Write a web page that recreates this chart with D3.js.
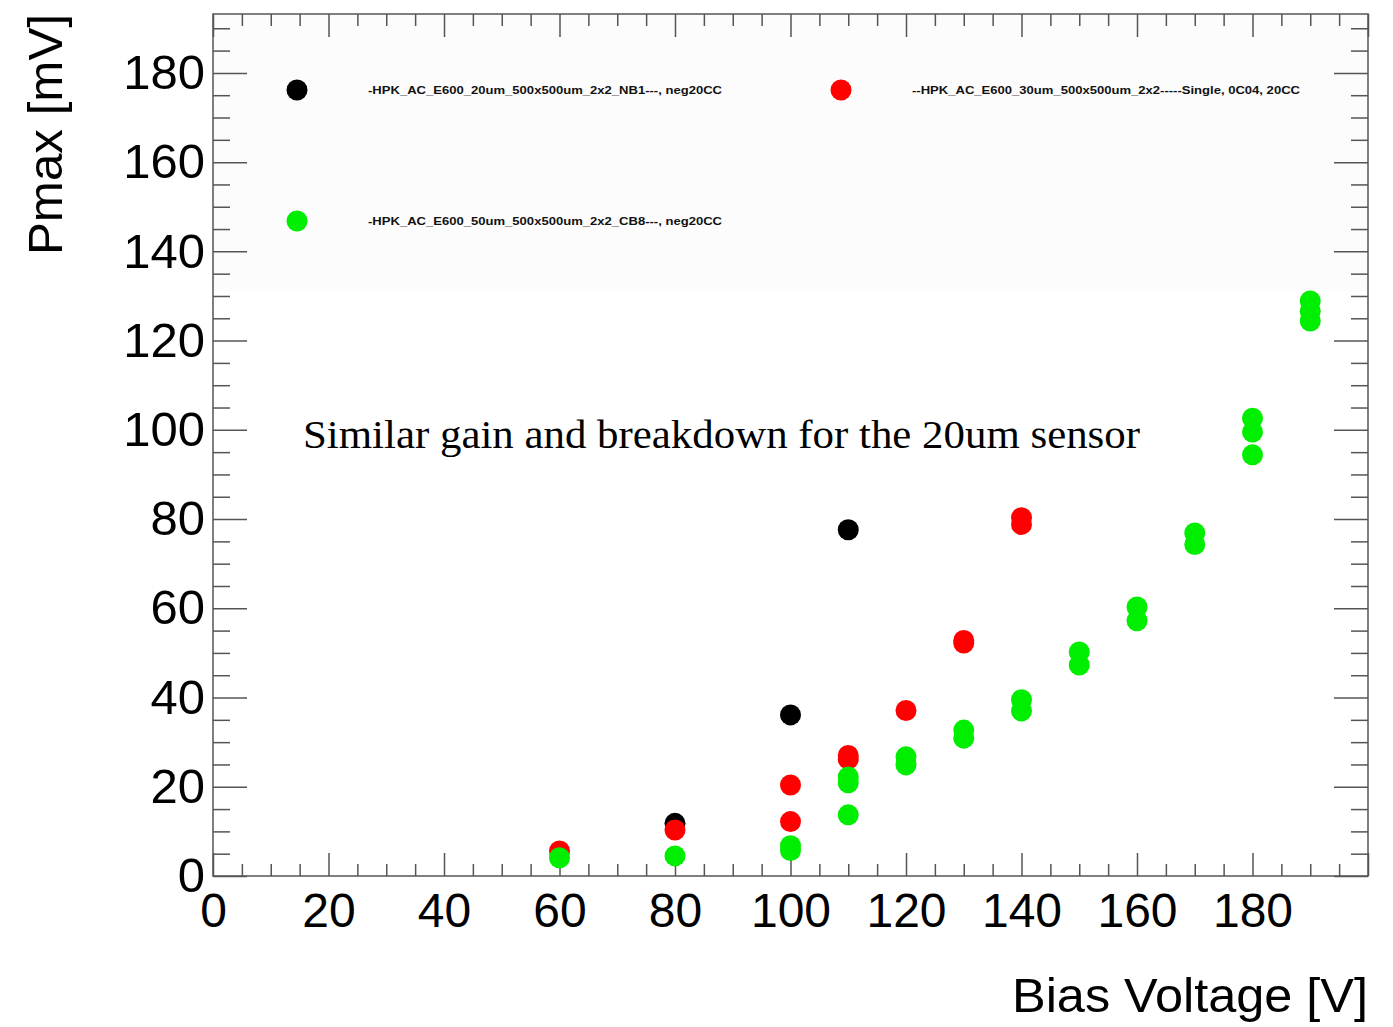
<!DOCTYPE html>
<html>
<head>
<meta charset="utf-8">
<script src="https://cdn.jsdelivr.net/npm/d3@7"></script>
<style>
  html, body { margin: 0; padding: 0; background: #fff; }
  svg { display: block; }
</style>
</head>
<body>
<svg id="chart" width="1393" height="1027"></svg>
<script>
// ---- data ----
const seriesNames = [
  "-HPK_AC_E600_20um_500x500um_2x2_NB1---, neg20CC",
  "--HPK_AC_E600_30um_500x500um_2x2-----Single, 0C04, 20CC",
  "-HPK_AC_E600_50um_500x500um_2x2_CB8---, neg20CC"
];
const seriesColors = ["#000000", "#ff0000", "#00ee00"];

const blackV = [80, 100, 110];
const blackP = [11.8, 36.1, 77.6];

const redV = [60, 80, 100, 100, 110, 110, 120, 130, 130, 140, 140];
const redP = [5.6, 10.3, 20.4, 12.2, 27.0, 26.2, 37.1, 52.8, 52.2, 80.3, 78.8];

const greenV = [60, 80, 100, 100, 110, 110, 110, 120, 120, 130, 130, 140, 140,
                150, 150, 160, 160, 170, 170, 180, 180, 180, 190, 190, 190];
const greenP = [4.1, 4.5, 6.8, 5.7, 22.2, 20.9, 13.7, 26.7, 24.9, 32.7, 30.9, 39.5, 37.0,
                50.2, 47.3, 60.3, 57.2, 76.9, 74.3, 102.6, 99.5, 94.4, 128.9, 126.6, 124.4];

const xTickLabels = [0, 20, 40, 60, 80, 100, 120, 140, 160, 180];
const yTickLabels = [0, 20, 40, 60, 80, 100, 120, 140, 160, 180];
const xTitle = "Bias Voltage [V]";
const yTitle = "Pmax [mV]";
const annotation = "Similar gain and breakdown for the 20um sensor";

// ---- layout ----
const svg = d3.select("#chart");
const L = 213, R = 1368, T = 14, B = 876;
const x = d3.scaleLinear().domain([0, 200]).range([L, R]);
const y = d3.scaleLinear().domain([0, 193.2]).range([B, T]);

const frameColor = "#555";
const tickFont = "'Liberation Sans', Arial, Helvetica, sans-serif";

// legend background (very faintly tinted pad area)
svg.append("rect").attr("x", L + 1).attr("y", T + 1)
  .attr("width", R - L - 2).attr("height", 290 - T)
  .attr("fill", "#fcfcfc");

// minor tick values
const xMinor = d3.range(0, 201, 5).filter(v => v % 20 !== 0);
const yMinor = d3.range(0, 193, 5).filter(v => v % 20 !== 0);
const xMajorAll = d3.range(0, 201, 20);

function styleAxis(g, showText) {
  g.select(".domain").remove();
  g.selectAll(".tick line").attr("stroke", frameColor).attr("stroke-width", 1.5);
  if (!showText) g.selectAll(".tick text").remove();
}

// bottom axis
svg.append("g").attr("transform", `translate(0,${B})`)
  .call(d3.axisBottom(x).tickValues(xMinor).tickSize(-12).tickFormat(""))
  .call(g => styleAxis(g, false));
svg.append("g").attr("transform", `translate(0,${B})`)
  .call(d3.axisBottom(x).tickValues(xMajorAll).tickSize(-23).tickPadding(17)
    .tickFormat(d => xTickLabels.includes(d) ? d : ""))
  .call(g => styleAxis(g, true))
  .call(g => g.selectAll(".tick text").attr("font-family", tickFont)
    .attr("font-size", 48).attr("fill", "#000"));

// top axis
svg.append("g").attr("transform", `translate(0,${T})`)
  .call(d3.axisTop(x).tickValues(xMinor).tickSize(-12).tickFormat(""))
  .call(g => styleAxis(g, false));
svg.append("g").attr("transform", `translate(0,${T})`)
  .call(d3.axisTop(x).tickValues(xMajorAll).tickSize(-23).tickFormat(""))
  .call(g => styleAxis(g, false));

// left axis
svg.append("g").attr("transform", `translate(${L},0)`)
  .call(d3.axisLeft(y).tickValues(yMinor).tickSize(-17).tickFormat(""))
  .call(g => styleAxis(g, false));
svg.append("g").attr("transform", `translate(${L},0)`)
  .call(d3.axisLeft(y).tickValues(yTickLabels).tickSize(-34).tickPadding(8))
  .call(g => styleAxis(g, true))
  .call(g => g.selectAll(".tick text").attr("font-family", tickFont)
    .attr("font-size", 49).attr("fill", "#000"));

// right axis
svg.append("g").attr("transform", `translate(${R},0)`)
  .call(d3.axisRight(y).tickValues(yMinor).tickSize(-17).tickFormat(""))
  .call(g => styleAxis(g, false));
svg.append("g").attr("transform", `translate(${R},0)`)
  .call(d3.axisRight(y).tickValues(yTickLabels).tickSize(-34).tickFormat(""))
  .call(g => styleAxis(g, false));

// frame
svg.append("rect").attr("x", L).attr("y", T).attr("width", R - L).attr("height", B - T)
  .attr("fill", "none").attr("stroke", frameColor).attr("stroke-width", 1.5);

// axis titles
svg.append("text").attr("x", 1012).attr("y", 1012)
  .attr("font-family", tickFont).attr("font-size", 48).attr("fill", "#000")
  .attr("textLength", 356).attr("lengthAdjust", "spacingAndGlyphs")
  .text(xTitle);
svg.append("text").attr("transform", `translate(62,255) rotate(-90)`)
  .attr("font-family", tickFont).attr("font-size", 48).attr("fill", "#000")
  .attr("textLength", 241).attr("lengthAdjust", "spacingAndGlyphs")
  .text(yTitle);

// data points
const R_PT = 10.5;
const series = [
  { v: blackV, p: blackP, c: seriesColors[0] },
  { v: redV, p: redP, c: seriesColors[1] },
  { v: greenV, p: greenP, c: seriesColors[2] }
];
series.forEach(s => {
  svg.append("g").selectAll("circle")
    .data(d3.zip(s.v, s.p))
    .join("circle")
    .attr("cx", d => x(d[0])).attr("cy", d => y(d[1]))
    .attr("r", R_PT).attr("fill", s.c);
});

// legend
const legendItems = [
  { mx: 297, my: 90, tx: 368, tw: 354 },
  { mx: 841, my: 90, tx: 912, tw: 388 },
  { mx: 297, my: 221, tx: 368, tw: 354 }
];
legendItems.forEach((it, i) => {
  svg.append("circle").attr("cx", it.mx).attr("cy", it.my).attr("r", R_PT)
    .attr("fill", seriesColors[i]);
  svg.append("text").attr("x", it.tx).attr("y", it.my + 4)
    .attr("font-family", tickFont).attr("font-weight", "bold")
    .attr("font-size", 11).attr("fill", "#111")
    .attr("textLength", it.tw).attr("lengthAdjust", "spacingAndGlyphs")
    .text(seriesNames[i]);
});

// annotation
svg.append("text").attr("x", 303).attr("y", 448)
  .attr("font-family", "'Liberation Serif', 'DejaVu Serif', serif")
  .attr("font-size", 41).attr("fill", "#000")
  .attr("textLength", 837).attr("lengthAdjust", "spacingAndGlyphs")
  .text(annotation);
</script>
</body>
</html>
